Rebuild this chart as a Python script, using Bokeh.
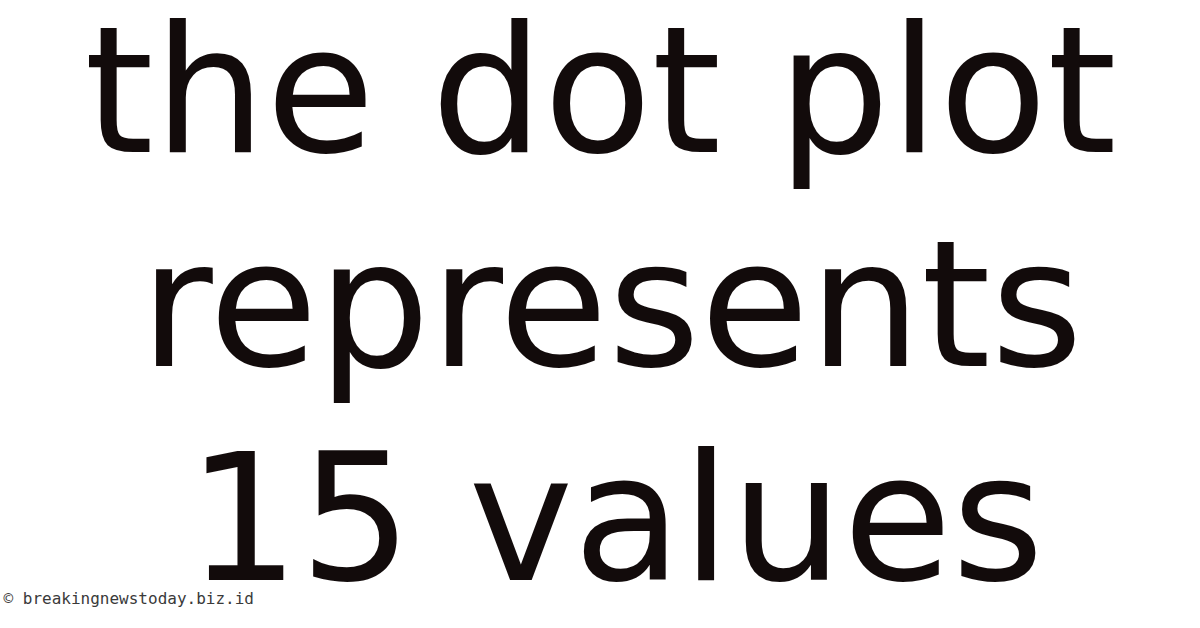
from bokeh.plotting import figure
from bokeh.models import Range1d, ColumnDataSource
from bokeh.core.properties import value
from bokeh.embed import file_html
from bokeh.resources import INLINE

# Content
lines = ["the dot plot", "represents", "15 values"]
watermark = "\u00a9 breakingnewstoday.biz.id"

# Layout (pixels inside the figure)
W, H = 1184, 612
line_x = [600, 611, 615]
first_baseline, line_gap = 90, 214

p = figure(width=W, height=H, output_backend="svg", toolbar_location=None,
           x_range=Range1d(0, W), y_range=Range1d(H, 0),
           x_axis_type=None, y_axis_type=None, min_border=0,
           background_fill_color="white", border_fill_color="white")
p.outline_line_color = None
p.grid.visible = False

ys = [first_baseline + line_gap * i for i in range(len(lines))]
src = ColumnDataSource(dict(x=line_x, y=ys, t=lines))
p.text(x="x", y="y", text="t", source=src, text_font=value("DejaVu Sans"),
       text_font_size="177px", text_align="center", text_baseline="alphabetic",
       text_color="#120b0b")

p.text(x=[3], y=[598], text=[watermark], text_font=value("DejaVu Sans Mono"),
       text_font_size="16px", text_align="left", text_baseline="alphabetic",
       text_color="#3a3a3a")

open("out.html", "w").write(file_html(p, INLINE))
